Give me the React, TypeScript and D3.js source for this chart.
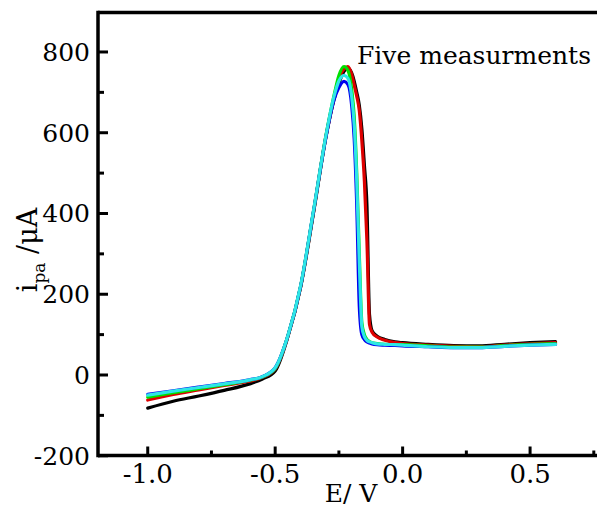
import React from "react";
import * as d3 from "d3";

const potentials = [
  -1.0, -0.9, -0.8, -0.7, -0.6, -0.55, -0.5, -0.45, -0.4, -0.35, -0.3, -0.27,
  -0.25, -0.23, -0.215, -0.2, -0.19, -0.18, -0.17, -0.16, -0.15, -0.14, -0.13,
  -0.12, -0.1, -0.07, -0.03, 0.0, 0.1, 0.2, 0.3, 0.4, 0.5, 0.6,
];

const blackRun = [
  -82, -65, -52, -38, -22, -10, 10, 95, 218, 400, 592, 680,
  722, 752, 760, 748, 728, 700, 668, 610, 520, 420, 150,
  110, 96, 88, 82, 80, 76, 73, 72, 76, 80, 83,
];
const redRun = [
  -62, -48, -37, -26, -15, -6, 15, 96, 219, 402, 594, 684,
  735, 758, 764, 745, 718, 690, 655, 580, 480, 330, 125,
  106, 94, 86, 80, 78, 74, 71, 70, 74, 77, 80,
];
const greenRun = [
  -55, -44, -34, -24, -13, -5, 16, 97, 220, 404, 596, 690,
  742, 764, 755, 708, 640, 500, 300, 130, 100, 88, 83,
  80, 78, 76, 75, 75, 72, 69, 69, 73, 76, 78,
];
const blueRun = [
  -48, -39, -30, -21, -12, -4, 18, 97, 220, 404, 592, 680,
  712, 727, 720, 668, 585, 420, 170, 100, 88, 82, 79,
  77, 75, 74, 73, 72, 70, 68, 68, 71, 74, 76,
];
const cyanRun = [
  -50, -40, -31, -22, -12, -4, 18, 98, 222, 406, 596, 688,
  728, 742, 735, 690, 620, 480, 280, 120, 95, 86, 82,
  80, 77, 76, 75, 74, 70, 68, 68, 71, 74, 76,
];

const seriesList = [
  { name: "run1", values: blackRun, color: "#000000" },
  { name: "run2", values: redRun, color: "#dd0000" },
  { name: "run3", values: greenRun, color: "#00e000" },
  { name: "run4", values: blueRun, color: "#0000ee" },
  { name: "run5", values: cyanRun, color: "#2ee6e6" },
];

const yMajorTicks = [-200, 0, 200, 400, 600, 800];
const yMinorTicks = [-100, 100, 300, 500, 700];
const xMajorTicks = [-1.0, -0.5, 0.0, 0.5];
const xMinorTicks = [-0.75, -0.25, 0.25, 0.75];

const annotation = "Five measurments";

export default function App() {
  const W = 597;
  const H = 508;
  const x = d3.scaleLinear().domain([-1.19, 0.79]).range([99.3, 604]);
  const y = d3.scaleLinear().domain([-200, 900]).range([455.75, 11.6]);
  const left = 98;
  const top = 12.5;
  const bottom = 455.5;

  const line = d3
    .line<[number, number]>()
    .x((d) => x(d[0]))
    .y((d) => y(d[1]))
    .curve(d3.curveMonotoneX);

  const f = { fontFamily: "'DejaVu Serif'" };

  return (
    <svg
      width={W}
      height={H}
      style={{ position: "absolute", left: 0, top: 0, background: "#fff" }}
    >
      <rect x={0} y={0} width={W} height={H} fill="#fff" />
      {seriesList.map((s) => (
        <path
          key={s.name}
          d={line(potentials.map((p, i) => [p, s.values[i]]) as [number, number][]) || ""}
          fill="none"
          stroke={s.color}
          strokeWidth={3.2}
          strokeLinejoin="round"
          strokeLinecap="round"
        />
      ))}
      <line x1={left} x2={W} y1={top} y2={top} stroke="#000" strokeWidth={3.5} />
      <line x1={left} x2={W} y1={bottom} y2={bottom} stroke="#000" strokeWidth={3.5} />
      <line x1={left} x2={left} y1={top - 1.75} y2={bottom + 1.75} stroke="#000" strokeWidth={3.5} />
      {yMajorTicks.map((t) => (
        <g key={"ym" + t}>
          <line x1={left} x2={left + 10} y1={y(t)} y2={y(t)} stroke="#000" strokeWidth={3} />
          <text x={90} y={y(t) + 9} textAnchor="end" style={f} fontSize={25} fill="#000">
            {t}
          </text>
        </g>
      ))}
      {yMinorTicks.map((t) => (
        <line key={"yn" + t} x1={left} x2={left + 6} y1={y(t)} y2={y(t)} stroke="#000" strokeWidth={3} />
      ))}
      {xMajorTicks.map((t) => (
        <g key={"xm" + t}>
          <line x1={x(t)} x2={x(t)} y1={bottom} y2={bottom - 9} stroke="#000" strokeWidth={3} />
          <text x={x(t)} y={483} textAnchor="middle" style={f} fontSize={26} fill="#000">
            {t.toFixed(1)}
          </text>
        </g>
      ))}
      {xMinorTicks.map((t) => (
        <line key={"xn" + t} x1={x(t)} x2={x(t)} y1={bottom} y2={bottom - 5} stroke="#000" strokeWidth={3} />
      ))}
      <text x={351} y={502} textAnchor="middle" style={f} fontSize={25} fill="#000">
        E/ V
      </text>
      <text transform="translate(37,250) rotate(-90)" textAnchor="middle" style={f} fontSize={27} fill="#000">
        <tspan>i</tspan>
        <tspan fontSize={17} dy={8}>pa</tspan>
        <tspan dy={-8}> /μA</tspan>
      </text>
      <text x={357} y={64} style={f} fontSize={25} fill="#000">
        {annotation}
      </text>
    </svg>
  );
}
